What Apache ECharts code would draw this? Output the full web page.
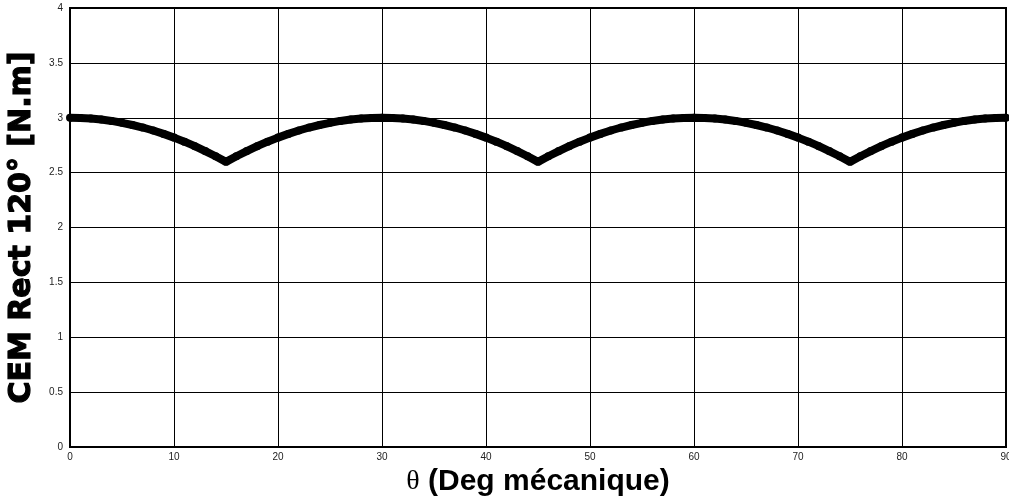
<!DOCTYPE html>
<html>
<head>
<meta charset="utf-8">
<script src="https://cdn.jsdelivr.net/npm/echarts@6/dist/echarts.min.js"></script>
<style>
  html, body { margin: 0; padding: 0; background: #fff; }
  #chart { width: 1009px; height: 499px; }
</style>
</head>
<body>
<div id="chart"></div>
<script>
// Mechanical angle (degrees)
const theta = [
  0, 1, 2, 3, 4, 5, 6, 7, 8, 9, 10, 11, 12, 13, 14, 15, 16, 17, 18, 19, 20,
  21, 22, 23, 24, 25, 26, 27, 28, 29, 30, 31, 32, 33, 34, 35, 36, 37, 38, 39, 40,
  41, 42, 43, 44, 45, 46, 47, 48, 49, 50, 51, 52, 53, 54, 55, 56, 57, 58, 59, 60,
  61, 62, 63, 64, 65, 66, 67, 68, 69, 70, 71, 72, 73, 74, 75, 76, 77, 78, 79, 80,
  81, 82, 83, 84, 85, 86, 87, 88, 89, 90
];

// Electromagnetic torque with 120° rectangular currents (N.m)
const torque = [
  3.000, 2.998, 2.993, 2.984, 2.971, 2.954, 2.934, 2.911, 2.884, 2.853, 2.819,
  2.782, 2.741, 2.696, 2.649, 2.598, 2.649, 2.696, 2.741, 2.782, 2.819,
  2.853, 2.884, 2.911, 2.934, 2.954, 2.971, 2.984, 2.993, 2.998, 3.000,
  2.998, 2.993, 2.984, 2.971, 2.954, 2.934, 2.911, 2.884, 2.853, 2.819,
  2.782, 2.741, 2.696, 2.649, 2.598, 2.649, 2.696, 2.741, 2.782, 2.819,
  2.853, 2.884, 2.911, 2.934, 2.954, 2.971, 2.984, 2.993, 2.998, 3.000,
  2.998, 2.993, 2.984, 2.971, 2.954, 2.934, 2.911, 2.884, 2.853, 2.819,
  2.782, 2.741, 2.696, 2.649, 2.598, 2.649, 2.696, 2.741, 2.782, 2.819,
  2.853, 2.884, 2.911, 2.934, 2.954, 2.971, 2.984, 2.993, 2.998, 3.000
];

const xTitle = '{t|θ} (Deg mécanique)';
const yTitle = 'CEM Rect 120° [N.m]';

const points = theta.map((t, i) => [t, torque[i]]);

const chart = echarts.init(document.getElementById('chart'), null, { renderer: 'canvas' });

const tickLabel = {
  color: '#222',
  fontFamily: 'Liberation Sans, Arial, sans-serif',
  fontSize: 10
};

chart.setOption({
  animation: false,
  backgroundColor: '#fff',
  grid: {
    left: 70, right: 3, top: 8, bottom: 52,
    outerBoundsMode: 'none',
    containLabel: false,
    show: true,
    borderColor: '#000',
    borderWidth: 2,
    backgroundColor: 'transparent'
  },
  xAxis: {
    type: 'value',
    min: 0, max: 90, interval: 10,
    name: xTitle,
    nameLocation: 'middle',
    nameGap: 17,
    nameTextStyle: {
      color: '#000',
      fontFamily: 'Liberation Sans, Arial, sans-serif',
      fontWeight: 'bold',
      fontSize: 30,
      rich: {
        t: {
          color: '#000',
          fontFamily: 'Liberation Serif, Times New Roman, serif',
          fontWeight: 'normal',
          fontSize: 28
        }
      }
    },
    axisLine: { show: true, lineStyle: { color: '#000', width: 2 } },
    axisTick: { show: false },
    axisLabel: Object.assign({ margin: 5 }, tickLabel),
    splitLine: { show: true, lineStyle: { color: '#000', width: 1 } }
  },
  yAxis: {
    type: 'value',
    min: 0, max: 4, interval: 0.5,
    name: yTitle,
    nameLocation: 'middle',
    nameGap: 31,
    nameRotate: 90,
    nameTextStyle: {
      color: '#000',
      fontFamily: 'DejaVu Sans, sans-serif',
      fontWeight: 'bold',
      fontSize: 30,
      textBorderColor: '#000',
      textBorderWidth: 1.2
    },
    axisLine: { show: true, lineStyle: { color: '#000', width: 1.5 } },
    axisTick: { show: false },
    axisLabel: Object.assign({ margin: 7 }, tickLabel),
    splitLine: { show: true, lineStyle: { color: '#000', width: 1 } }
  },
  series: [{
    type: 'line',
    data: points,
    clip: true,
    symbol: 'circle',
    symbolSize: 8,
    showAllSymbol: true,
    itemStyle: { color: '#000' },
    lineStyle: { color: '#000', width: 8 }
  }]
});
</script>
</body>
</html>
